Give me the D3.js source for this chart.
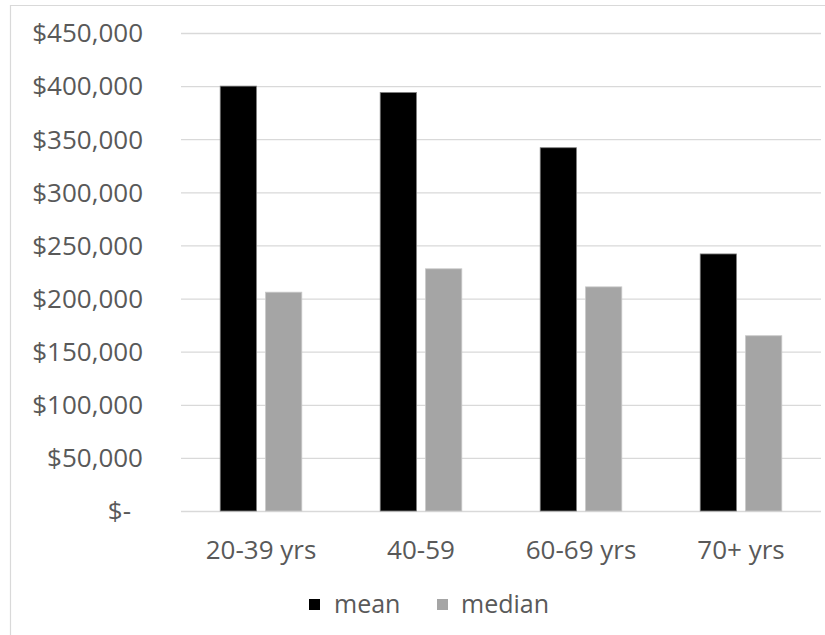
<!DOCTYPE html>
<html>
<head>
<meta charset="utf-8">
<script src="https://cdn.jsdelivr.net/npm/d3@7"></script>
<style>
  html, body { margin: 0; padding: 0; background: #fff; }
  svg text { font-family: "Open Sans", "Liberation Sans", sans-serif; fill: #595959; }
</style>
</head>
<body>
<svg id="chart" width="825" height="635"></svg>
<script>
// Wealth by age group: mean vs median
const categories = ["20-39 yrs", "40-59", "60-69 yrs", "70+ yrs"];
const seriesNames = ["mean", "median"];
const meanValues = [400000, 394000, 342000, 242000];
const medianValues = [206000, 228000, 211000, 165000];
const yTicks = [0, 50000, 100000, 150000, 200000, 250000, 300000, 350000, 400000, 450000];
const seriesColors = ["#000000", "#a5a5a5"];
const seriesStrokes = ["#7f7f7f", "#c8c8c8"];

const rows = categories.map((c, i) => ({ cat: c, mean: meanValues[i], median: medianValues[i] }));

const svg = d3.select("#chart");
const W = 825, H = 635;
const plot = { left: 181, right: 821, top: 33, bottom: 511 };

// chart frame (top and left edges visible)
svg.append("line").attr("x1", 10.5).attr("x2", W).attr("y1", 5.5).attr("y2", 5.5)
  .attr("stroke", "#d9d9d9").attr("stroke-width", 1.2);
svg.append("line").attr("x1", 10.5).attr("x2", 10.5).attr("y1", 5).attr("y2", H)
  .attr("stroke", "#d9d9d9").attr("stroke-width", 1.2);

const y = d3.scaleLinear().domain([0, 450000]).range([plot.bottom, plot.top]);
const x0 = d3.scaleBand().domain(categories).range([plot.left, plot.right])
  .paddingInner(0.49).paddingOuter(0.245);
const x1 = d3.scaleBand().domain(seriesNames).range([0, x0.bandwidth()])
  .paddingInner(0.2).paddingOuter(0);

// horizontal gridlines and dollar labels
const fmt = d3.format(",");
const yAxis = d3.axisLeft(y)
  .tickValues(yTicks)
  .tickSize(-(plot.right - plot.left))
  .tickPadding(38)
  .tickFormat(d => d === 0 ? "$-" : "$" + fmt(d));

const gy = svg.append("g").attr("transform", `translate(${plot.left},0)`).call(yAxis);
gy.select(".domain").remove();
gy.selectAll(".tick line").attr("stroke", "#d9d9d9").attr("stroke-width", 1.3);
gy.selectAll(".tick text")
  .style("font-size", "26px")
  .attr("dy", "0.34em")
  .attr("dx", d => d === 0 ? -12 : 0);

// bars
const groups = svg.append("g").selectAll("g")
  .data(rows).join("g")
  .attr("transform", d => `translate(${x0(d.cat)},0)`);

groups.selectAll("rect")
  .data(d => seriesNames.map((s, i) => ({ key: s, value: d[s], i })))
  .join("rect")
  .attr("x", d => x1(d.key))
  .attr("width", x1.bandwidth())
  .attr("y", d => y(d.value))
  .attr("height", d => y(0) - y(d.value))
  .attr("fill", d => seriesColors[d.i])
  .attr("stroke", d => seriesStrokes[d.i])
  .attr("stroke-width", 0.8);

// category axis labels
const xAxis = d3.axisBottom(x0).tickSize(0).tickPadding(30);
const gx = svg.append("g").attr("transform", `translate(0,${plot.bottom})`).call(xAxis);
gx.select(".domain").remove();
gx.selectAll(".tick text").style("font-size", "26px");

// legend
const legendItems = [
  { name: "mean", box: 309, text: 334 },
  { name: "median", box: 437, text: 461 }
];
const lg = svg.append("g");
legendItems.forEach((d, i) => {
  lg.append("rect").attr("x", d.box).attr("y", 599).attr("width", 11).attr("height", 11)
    .attr("fill", seriesColors[i]);
  lg.append("text").attr("x", d.text).attr("y", 604).attr("dy", "0.34em")
    .style("font-size", "25px").text(d.name);
});
</script>
</body>
</html>
